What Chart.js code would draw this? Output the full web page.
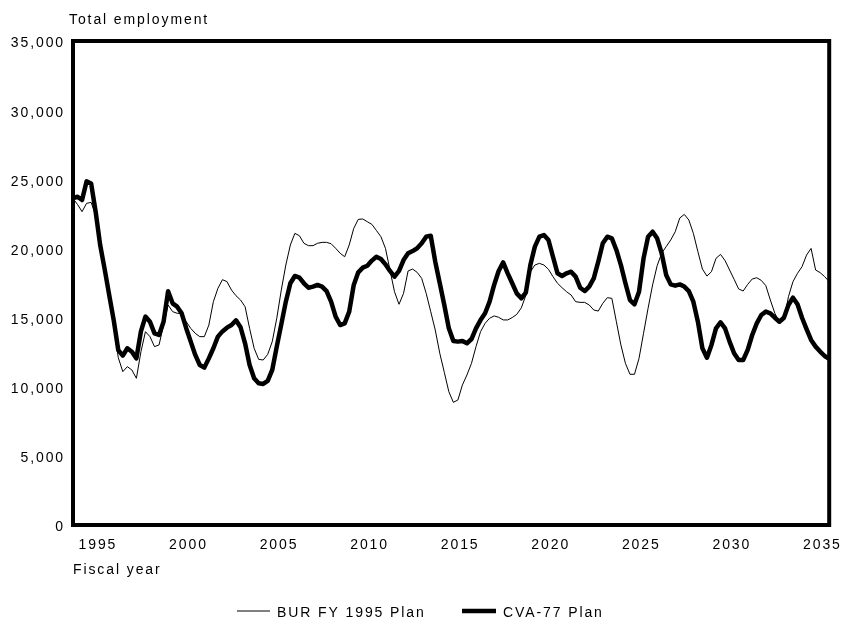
<!DOCTYPE html>
<html>
<head>
<meta charset="utf-8">
<script src="https://cdn.jsdelivr.net/npm/chart.js@4/dist/chart.umd.min.js"></script>
<style>
  html, body { margin: 0; padding: 0; background: #fff; }
  #wrap { width: 854px; height: 621px; position: relative; }
</style>
</head>
<body>
<div id="wrap"><canvas id="c" width="854" height="621"></canvas></div>
<script>
// ---- Data (quarterly, FY1994 Q1 .. FY2035 Q4) ----
const firstFiscalYear = 1994;
const lastFiscalYear = 2035;
const yearTickLabels = [1995, 2000, 2005, 2010, 2015, 2020, 2025, 2030, 2035];
const yAxisTicks = [0, 5000, 10000, 15000, 20000, 25000, 30000, 35000];
const seriesNames = ['BUR FY 1995 Plan', 'CVA-77 Plan'];

const burFY1995Plan = [
  23600, 23180, 22660, 23260, 23330, 22400, 20100, 18200, 16300, 14300,
  12100, 11090, 11450, 11210, 10610, 12530, 13980, 13620, 12900, 13020,
  14460, 15910, 15430, 15310, 15310, 14700, 14220, 13860, 13620, 13620,
  14460, 16150, 17110, 17740, 17600, 16990, 16580, 16270, 15790, 14220,
  12780, 11980, 11930, 12340, 13260, 14950, 16990, 18800, 20250, 21090,
  20920, 20370, 20200, 20200, 20370, 20440, 20440, 20340, 20010, 19650,
  19400, 20250, 21450, 22100, 22130, 21930, 21740, 21300, 20850, 20010,
  18440, 16870, 15960, 16750, 18370, 18510, 18270, 17840, 16750, 15430,
  14100, 12420, 11040, 9640, 8870, 9040, 10130, 10850, 11690, 12900,
  13980, 14580, 14950, 15120, 15020, 14830, 14830, 15000, 15230, 15700,
  16600, 18300, 18800, 18920, 18800, 18490, 17960, 17480, 17160, 16870,
  16630, 16150, 16100, 16100, 15910, 15550, 15470, 16030, 16440, 16390,
  14700, 13020, 11690, 10900, 10900, 12050, 13860, 15670, 17360, 18750,
  19650, 20130, 20610, 21210, 22200, 22460, 22060, 21090, 19770, 18510,
  18000, 18320, 19280, 19570, 19120, 18440, 17770, 17070, 16920, 17400,
  17790, 17880, 17690, 17310, 16270, 15310, 14660, 14820, 16510, 17600,
  18200, 18680, 19520, 20000, 18440, 18250, 17960, 17600
];

const cva77Plan = [
  23620, 23740, 23500, 24850, 24700, 22660, 20250, 18490, 16630, 14800,
  12650, 12250, 12780, 12530, 12050, 14000, 15070, 14700, 13860, 13740,
  14700, 16900, 16030, 15790, 15310, 14230, 13260, 12300, 11570, 11380,
  12050, 12780, 13620, 14000, 14270, 14460, 14800, 14300, 13140, 11570,
  10610, 10250, 10200, 10420, 11210, 12900, 14510, 16150, 17480, 18010,
  17890, 17480, 17160, 17240, 17360, 17240, 16920, 16150, 15070, 14460,
  14580, 15430, 17360, 18270, 18610, 18750, 19120, 19400, 19240, 18850,
  18370, 17960, 18370, 19160, 19650, 19810, 20010, 20370, 20850, 20920,
  19040, 17480, 15910, 14220, 13310, 13260, 13310, 13140, 13450, 14220,
  14820, 15310, 16150, 17360, 18370, 18990, 18200, 17480, 16750, 16390,
  16800, 18800, 20130, 20850, 20970, 20610, 19400, 18200, 18010, 18200,
  18320, 17960, 17160, 16920, 17240, 17840, 19040, 20370, 20850, 20730,
  19890, 18800, 17480, 16270, 15960, 16870, 19280, 20850, 21210, 20730,
  19650, 18080, 17400, 17310, 17400, 17240, 16920, 16150, 14700, 12780,
  12100, 13020, 14220, 14660, 14220, 13260, 12420, 11930, 11930, 12660,
  13740, 14580, 15190, 15430, 15310, 14990, 14700, 14990, 15910, 16440,
  15960, 14990, 14170, 13380, 12900, 12540, 12220, 12010
];

// Category positions: middle of each fiscal quarter, in fiscal-year units
const quarterPositions = [];
for (let fy = firstFiscalYear; fy <= lastFiscalYear; fy++) {
  for (let q = 1; q <= 4; q++) quarterPositions.push(fy + (q - 0.5) / 4);
}

const FONT = 'Liberation Sans, Arial, Helvetica, sans-serif';
const LS = '1.9px';

function setSpacing(chart) {
  try { chart.ctx.letterSpacing = LS; } catch (e) {}
}

const spacingPlugin = {
  id: 'spacing',
  beforeInit: setSpacing,
  beforeUpdate: setSpacing,
  beforeLayout: setSpacing,
  beforeDraw: setSpacing
};

const decorPlugin = {
  id: 'decor',
  afterDatasetsDraw(chart) {
    const { ctx, chartArea: a } = chart;
    ctx.save();
    ctx.strokeStyle = '#000';
    ctx.lineWidth = 4;
    ctx.strokeRect(a.left, a.top, a.right - a.left, a.bottom - a.top);
    ctx.restore();
  },
  afterDraw(chart) {
    const { ctx, chartArea: a } = chart;
    ctx.save();
    try { ctx.letterSpacing = LS; } catch (e) {}
    ctx.fillStyle = '#000';
    ctx.font = '14px ' + FONT;
    ctx.textAlign = 'left';
    ctx.textBaseline = 'alphabetic';
    ctx.fillText('Total employment', 69, 23.5);
    ctx.fillText('Fiscal year', 73, 574.3);

    // legend
    const ds = chart.data.datasets;
    const items = [
      { x1: 237, x2: 270, tx: 277, ds: ds[0] },
      { x1: 462, x2: 496, tx: 503, ds: ds[1] }
    ];
    const ly = 611;
    items.forEach(it => {
      ctx.beginPath();
      ctx.strokeStyle = it.ds.borderColor;
      ctx.lineWidth = it.ds.borderWidth;
      ctx.moveTo(it.x1, ly);
      ctx.lineTo(it.x2, ly);
      ctx.stroke();
      ctx.fillText(it.ds.label, it.tx, 616.5);
    });
    ctx.restore();
  }
};

new Chart(document.getElementById('c'), {
  type: 'line',
  data: {
    labels: quarterPositions,
    datasets: [
      {
        label: seriesNames[0],
        data: burFY1995Plan,
        borderColor: '#000',
        borderWidth: 1,
        pointRadius: 0,
        tension: 0,
        fill: false
      },
      {
        label: seriesNames[1],
        data: cva77Plan,
        borderColor: '#000',
        borderWidth: 4.5,
        pointRadius: 0,
        tension: 0,
        fill: false,
        borderJoinStyle: 'round',
        borderCapStyle: 'round'
      }
    ]
  },
  options: {
    responsive: false,
    animation: false,
    devicePixelRatio: 1,
    layout: { padding: { top: 41, left: 0, right: 24.5, bottom: 0 } },
    plugins: {
      legend: { display: false },
      tooltip: { enabled: false },
      title: { display: false }
    },
    scales: {
      x: {
        type: 'linear',
        min: firstFiscalYear + 0.125,
        max: lastFiscalYear + 0.875,
        grid: { display: false, drawTicks: false },
        border: { display: false },
        afterFit: s => { s.height = 96; },
        afterBuildTicks: s => { s.ticks = yearTickLabels.map(y => ({ value: y + 0.5 })); },
        ticks: {
          autoSkip: false,
          maxRotation: 0,
          padding: 12,
          color: '#000',
          font: { family: FONT, size: 14 },
          callback: v => String(Math.round(v - 0.5))
        }
      },
      y: {
        type: 'linear',
        min: 0,
        max: 35000,
        grid: { display: false, drawTicks: false },
        border: { display: false },
        afterFit: s => { s.width = 73; },
        afterBuildTicks: s => { s.ticks = yAxisTicks.map(v => ({ value: v })); },
        ticks: {
          padding: 8,
          labelOffset: 2.5,
          color: '#000',
          font: { family: FONT, size: 14 },
          callback: v => v.toLocaleString('en-US')
        }
      }
    }
  },
  plugins: [spacingPlugin, decorPlugin]
});
</script>
</body>
</html>
